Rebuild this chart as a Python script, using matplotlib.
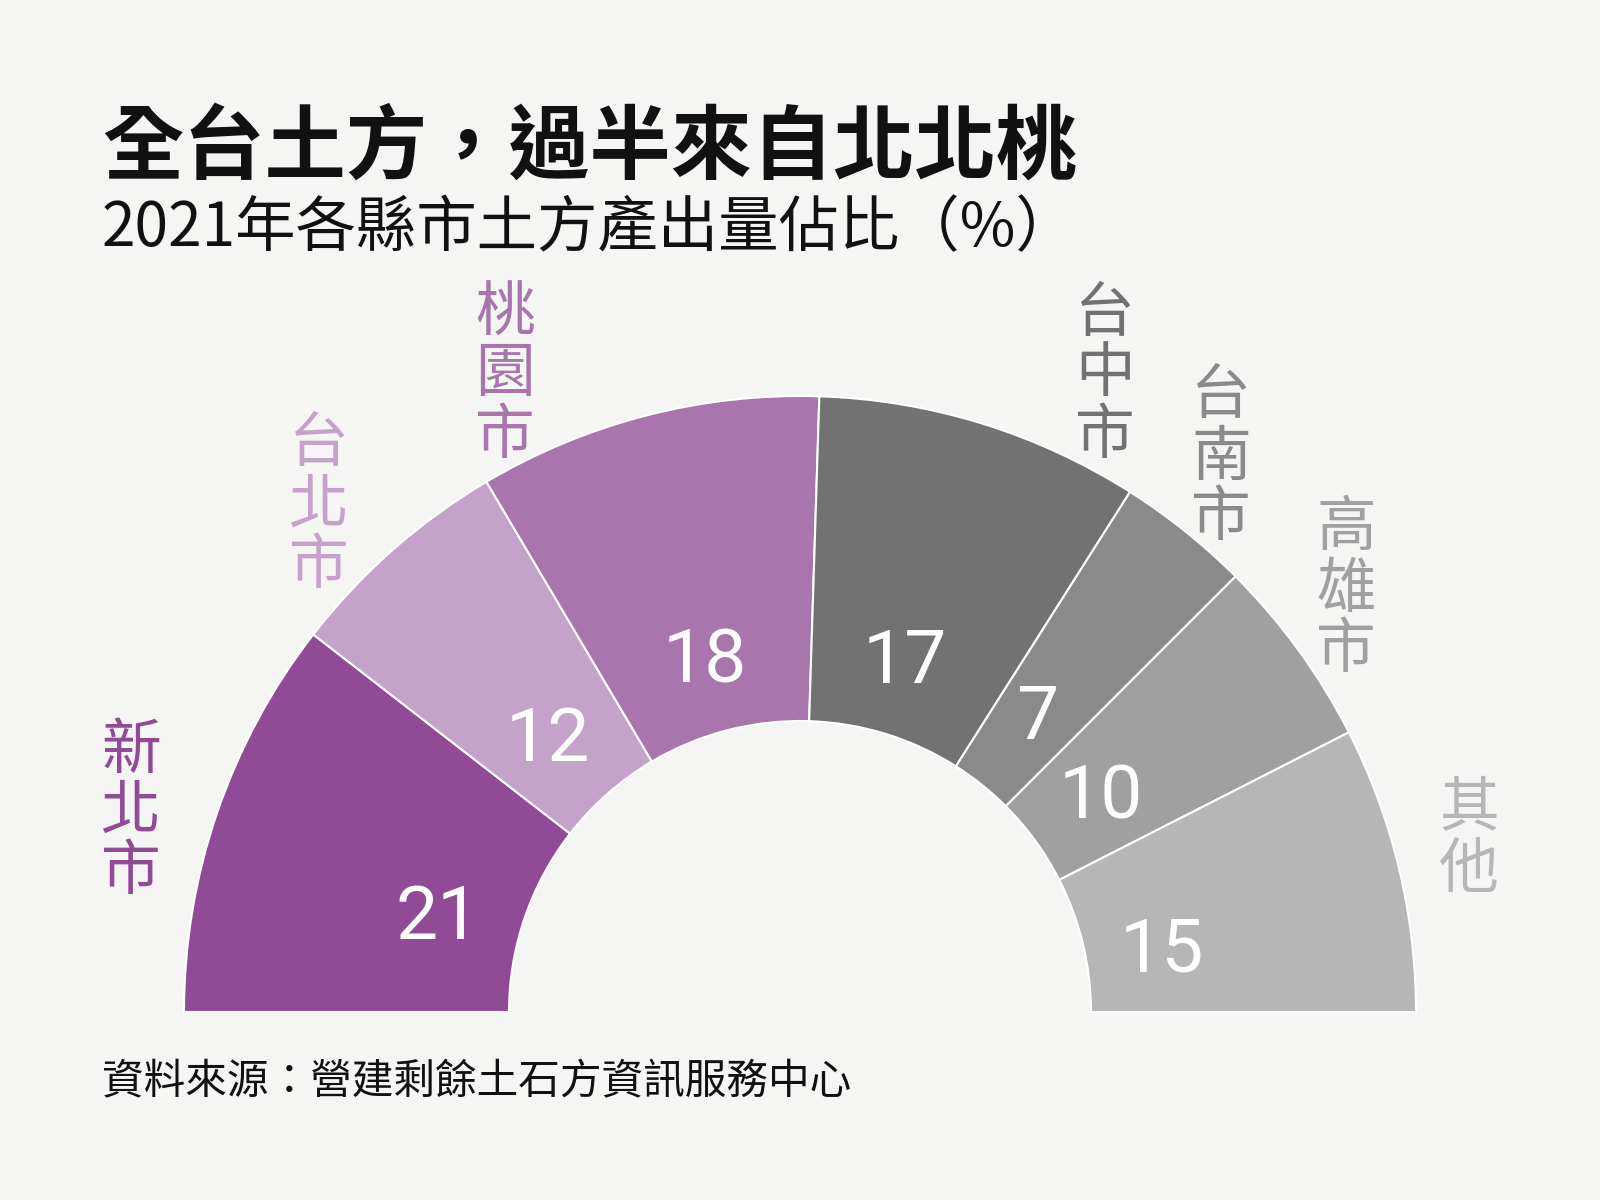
import numpy as np
import matplotlib
matplotlib.use("Agg")
import matplotlib.pyplot as plt

plt.rcParams['font.family'] = ['Noto Sans CJK TC', 'DejaVu Sans']

# data
names = ['新北市', '台北市', '桃園市', '台中市', '台南市', '高雄市', '其他']
values = [21, 12, 18, 17, 7, 10, 15]
colors = ['#904a96', '#c4a2ca', '#a876ad', '#727272', '#8a8a8a', '#a0a0a0', '#b5b6b5']

title = '全台土方，過半來自北北桃'
subtitle = '2021年各縣市土方產出量佔比（%）'
source = '資料來源：營建剩餘土石方資訊服務中心'

# where the stacked city names start (pixel coords, from top-left)
label_xy = [(131, 751), (319, 445), (505, 314), (1105, 314),
            (1221, 397), (1346, 529), (1469, 809)]
# small nudges of the value labels (pixels, +y is down)
num_nudge = [(-10, 27), (-6, 8), (-3, 10), (-5, 6), (5, -3), (0, 5), (0, 26)]

bg = '#f5f5f3'
W, H = 1600, 1200
cx, cy = 800, H - 1012
R, ring = 616, 325

fig = plt.figure(figsize=(16, 12), dpi=100, facecolor=bg)
ax = fig.add_axes([0, 0, 1, 1])
ax.set_facecolor(bg)

# half donut: add an invisible half so the real wedges fill 180 degrees
wedges, _ = ax.pie(values + [sum(values)], colors=colors + ['none'],
                   startangle=180, counterclock=False, radius=R, center=(cx, cy),
                   wedgeprops=dict(width=ring, edgecolor='white', linewidth=1.5))
wedges[-1].set_visible(False)

ax.set_xlim(0, W)
ax.set_ylim(0, H)
ax.set_aspect('auto')
ax.axis('off')

# numbers inside the ring
cum = np.cumsum(values)
mid = 180 - (cum - np.array(values) / 2) / sum(values) * 180
r_txt = 372
for v, a, (dx, dy) in zip(values, mid, num_nudge):
    x = cx + r_txt * np.cos(np.radians(a)) + dx
    y = cy + r_txt * np.sin(np.radians(a)) - dy
    ax.text(x, y, str(v), color='white', fontsize=54,
            ha='center', va='center', family=['Roboto', 'DejaVu Sans'])

# city names, one character per line
step = 61
for name, col, (lx, ly) in zip(names, colors, label_xy):
    for i, ch in enumerate(name):
        ax.text(lx, H - (ly + i * step), ch, color=col, fontsize=43,
                fontweight='medium', ha='center', va='center')

fig.text(102 / W, 1 - 149 / H, title, fontsize=58.5, fontweight='bold',
         color='#111111', ha='left', va='center')
fig.text(102 / W, 1 - 229 / H, subtitle, fontsize=43.5, color='#111111',
         ha='left', va='center')
fig.text(102 / W, 1 - 1083 / H, source, fontsize=30, color='#111111',
         ha='left', va='center')

fig.savefig('out.png', dpi=100, facecolor=bg)
